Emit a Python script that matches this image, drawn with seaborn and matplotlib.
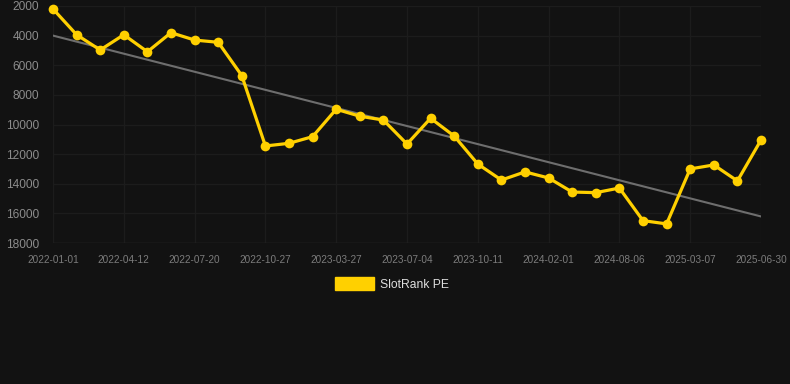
import seaborn as sns
import matplotlib.pyplot as plt
import matplotlib.patches as mpatches
import numpy as np
import pandas as pd

# SlotRank PE values, one per observation (y axis is inverted: lower rank on top)
ranks = [2200, 3940, 4970, 3940, 5090, 3800, 4300, 4450, 6700, 11450,
         11270, 10820, 8970, 9440, 9700, 11320, 9580, 10780, 12670, 13750,
         13200, 13610, 14560, 14600, 14290, 16490, 16710, 13000, 12730, 13810,
         11050]
tick_labels = ["2022-01-01", "2022-04-12", "2022-07-20", "2022-10-27", "2023-03-27",
               "2023-07-04", "2023-10-11", "2024-02-01", "2024-08-06", "2025-03-07",
               "2025-06-30"]
y_ticks = [2000, 4000, 6000, 8000, 10000, 12000, 14000, 16000, 18000]

bg = "#121212"
yellow = "#FFD000"

sns.set_style("dark", {"axes.facecolor": bg, "figure.facecolor": bg,
                       "grid.color": "#1c1c1c", "axes.edgecolor": bg})
plt.rcParams['font.family'] = ['Liberation Sans', 'DejaVu Sans']

df = pd.DataFrame({"idx": np.arange(len(ranks)), "rank": ranks})

# linear trend over the whole series
coef = np.polyfit(df["idx"], df["rank"], 1)
df["trend"] = np.polyval(coef, df["idx"])

fig = plt.figure(figsize=(7.9, 3.84), dpi=100)
ax = fig.add_axes([53 / 790, 1 - 243 / 384, 708 / 790, 237 / 384])

sns.lineplot(data=df, x="idx", y="trend", ax=ax, color="#6e6e6e", linewidth=1.5)
sns.lineplot(data=df, x="idx", y="rank", ax=ax, color=yellow, linewidth=2.3,
             marker="o", markersize=7, markeredgewidth=0, clip_on=False)

ax.set_xlim(0, len(ranks) - 1)
ax.set_ylim(18000, 2000)
ax.set_yticks(y_ticks)
ax.set_yticklabels([str(v) for v in y_ticks], fontsize=8.6, color="#8c8c8c")
ax.set_xticks(np.arange(0, len(ranks), 3))
ax.set_xticklabels(tick_labels, fontsize=7.2, color="#7c7c7c")
ax.tick_params(axis="x", length=0, pad=8.5)
ax.tick_params(axis="y", length=0, pad=10)
ax.grid(True, color="#1c1c1c", linewidth=1)
ax.set_xlabel("")
ax.set_ylabel("")
for s in ax.spines.values():
    s.set_visible(False)
ax.axhline(18000, color="#2a2a2a", linewidth=1)

handle = mpatches.Patch(color=yellow, label="SlotRank PE")
fig.legend(handles=[handle], loc="center", bbox_to_anchor=(392 / 790, 1 - 284 / 384),
           frameon=False, fontsize=8.7, labelcolor="#dddddd",
           handlelength=3.3, handleheight=1.2, handletextpad=0.5)

plt.savefig("out.png", dpi=100, facecolor=bg)
